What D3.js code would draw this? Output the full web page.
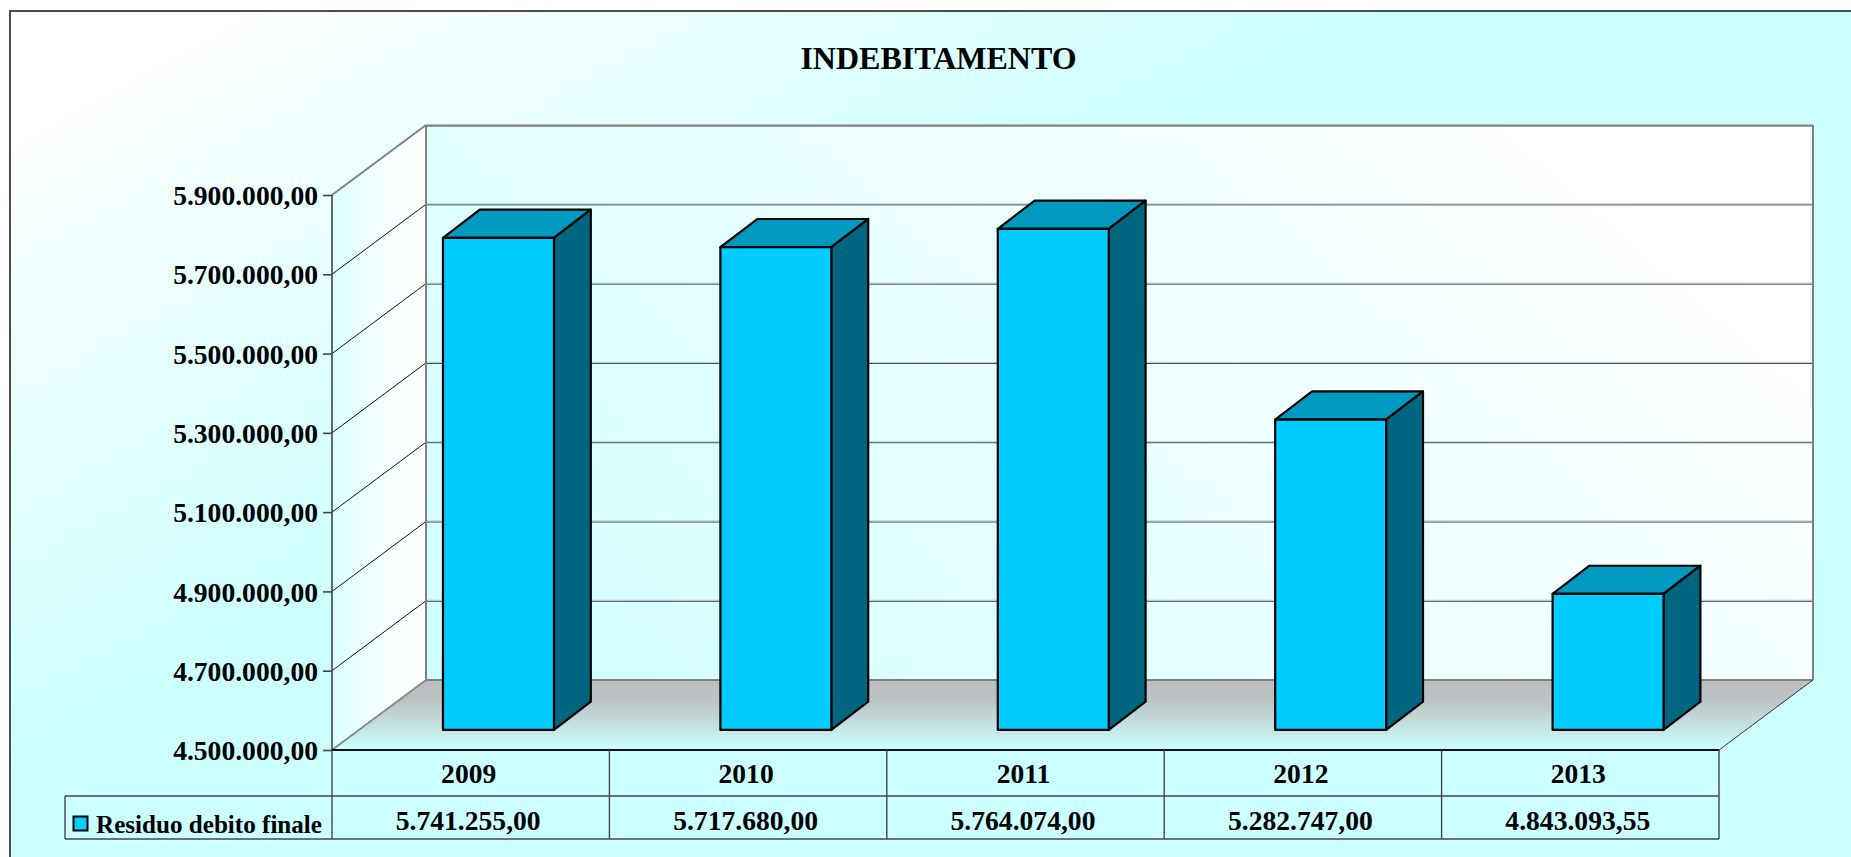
<!DOCTYPE html>
<html><head><meta charset="utf-8">
<script src="https://cdn.jsdelivr.net/npm/d3@7"></script>
<style>html,body{margin:0;padding:0;background:#fff;overflow:hidden}svg{display:block}
text{font-family:"Liberation Serif",serif;font-weight:700;fill:#000}</style>
</head><body><svg id="c" width="1851" height="857"></svg>
<script>
const chartTitle = "INDEBITAMENTO";
const seriesName = "Residuo debito finale";
const years = ["2009","2010","2011","2012","2013"];
const debt = [5741255.00,5717680.00,5764074.00,5282747.00,4843093.55];
const yTicks = [4500000,4700000,4900000,5100000,5300000,5500000,5700000,5900000];

const W=1851,H=857;
const L=332,R=1719,T=195,B=750;      // front plane of the plot
const DX=94,DY=-70,BDY=-72;          // wall depth, bar depth slope
const ROW1=796,ROW2=839,LEG=65;
const D0=.288,D1=.68,BARW=.4;

const it=d3.formatLocale({decimal:",",thousands:".",grouping:[3],currency:["","€"]});
const fmt=it.format(",.2f");
const x=d3.scaleBand().domain(years).range([L,R]);
const y=d3.scaleLinear().domain([4500000,5900000]).range([B,T]);

const svg=d3.select("#c");
const defs=svg.append("defs");
function grad(id,a,stops){
  const g=defs.append("linearGradient").attr("id",id).attr("gradientUnits","userSpaceOnUse")
    .attr("x1",a[0]).attr("y1",a[1]).attr("x2",a[2]).attr("y2",a[3]);
  stops.forEach(s=>g.append("stop").attr("offset",s[0]).attr("stop-color",s[1]));
}
grad("bg",[10,11,336,600],[[0,"#ffffff"],[.15,"#ffffff"],[1,"#ccffff"]]);
grad("back",[1812,125,896,1180],[[0,"#ffffff"],[.12,"#ffffff"],[1,"#ccffff"]]);
grad("sideW",[332,0,426,0],[[0,"#dcffff"],[.55,"#f6ffff"],[1,"#ffffff"]]);
grad("floor",[0,680,0,750],[[0,"#bcbcbc"],[.3,"#bcc4c4"],[1,"#ccffff"]]);

svg.append("rect").attr("x",10).attr("y",11).attr("width",W).attr("height",H)
  .attr("fill","url(#bg)").attr("stroke","#222").attr("stroke-width",1.6);

const poly=(pts,fill,stroke,sw)=>svg.append("polygon").attr("points",pts.map(p=>p.join(",")).join(" "))
  .attr("fill",fill).attr("stroke",stroke||"none").attr("stroke-width",sw||0).attr("stroke-linejoin","round");
const line=(a,b,s,w)=>svg.append("line").attr("x1",a[0]).attr("y1",a[1]).attr("x2",b[0]).attr("y2",b[1]).attr("stroke",s).attr("stroke-width",w);

// walls and floor
poly([[L+DX,T+DY],[R+DX,T+DY],[R+DX,B+DY],[L+DX,B+DY]],"url(#back)");
poly([[L,T],[L+DX,T+DY],[L+DX,B+DY],[L,B]],"url(#sideW)");
poly([[L,B],[L+DX,B+DY],[R+DX,B+DY],[R,B]],"url(#floor)");

// gridlines
yTicks.forEach(t=>{
  const yy=y(t);
  if(t!==4500000&&t!==5900000){
    line([L+DX,yy+DY+.6],[R+DX,yy+DY+.6],"#3c4848",1);
    line([L+DX,yy+DY-.5],[R+DX,yy+DY-.5],"#b4bcbc",.8);
    line([L,yy],[L+DX,yy+DY],"#111",1);
  }
});
line([L+DX,T+DY+.6],[R+DX,T+DY+.6],"#808080",2.2);
line([L+DX,B+DY],[R+DX,B+DY],"#808080",2.2);
line([L+DX,T+DY],[L+DX,B+DY],"#808080",2);
line([R+DX,T+DY],[R+DX,B+DY],"#808080",2);
line([L,T],[L+DX,T+DY],"#808080",2);
line([L,B],[L+DX,B+DY],"#8a8a8a",2);
line([R,B],[R+DX,B+DY],"#333",1);

// y axis
const axis=d3.axisLeft(y).tickValues(yTicks).tickFormat(fmt).tickSize(9).tickPadding(5);
const ag=svg.append("g").attr("transform",`translate(${L},0)`).call(axis);
ag.selectAll("path.domain").attr("stroke","#444").attr("stroke-width",1.6).attr("d",`M0,${T}V${B}`);
ag.selectAll(".tick line").attr("stroke","#444").attr("stroke-width",1.6);
ag.selectAll(".tick text").attr("font-size",27.6).attr("font-family",'"Liberation Serif",serif').attr("font-weight",700).attr("fill","#000").attr("dy","0.35em");

// bars
years.forEach((yr,i)=>{
  const v=debt[i], w=x.bandwidth()*BARW;
  const xl=x(yr)+(x.bandwidth()-w)/2+.7, xr=xl+w;
  const P=(px,val,d)=>[px+d*DX,y(val)+.7+d*BDY];
  const fb=P(xl,4500000,D0),fr=P(xr,4500000,D0),ft=P(xl,v,D0),frt=P(xr,v,D0);
  const bt=P(xl,v,D1),brt=P(xr,v,D1),brb=P(xr,4500000,D1);
  poly([ft,frt,brt,bt],"#0099bf","#000",2.2);
  poly([frt,brt,brb,fr],"#006680","#000",2.2);
  poly([ft,frt,fr,fb],"#00ccff","#000",2.2);
});

// data table
line([L,B],[R,B],"#111",2.2);
line([LEG,ROW1],[R,ROW1],"#445",1.4);
line([LEG,ROW2],[R,ROW2],"#445",1.4);
line([LEG,ROW1],[LEG,ROW2],"#445",1.4);
line([L,B],[L,ROW2],"#445",1.4);
x.domain().forEach(yr=>line([x(yr)+x.bandwidth(),B],[x(yr)+x.bandwidth(),ROW2],"#445",1.4));
const cell=(t,cx,cy)=>svg.append("text").attr("x",cx).attr("y",cy).attr("text-anchor","middle").attr("font-size",27.6).text(t);
years.forEach((yr,i)=>{
  cell(yr,x(yr)+x.bandwidth()/2-2,783);
  cell(fmt(debt[i]),x(yr)+x.bandwidth()/2-2.5,830);
});
svg.append("rect").attr("x",73.5).attr("y",816.5).attr("width",14).attr("height",14).attr("fill","#00ccff").attr("stroke","#000").attr("stroke-width",2);
svg.append("text").attr("x",96).attr("y",833).attr("font-size",26).attr("textLength",226).attr("lengthAdjust","spacingAndGlyphs").text(seriesName);
svg.append("text").attr("x",938.5).attr("y",69).attr("text-anchor","middle").attr("font-size",32).text(chartTitle);
</script></body></html>
